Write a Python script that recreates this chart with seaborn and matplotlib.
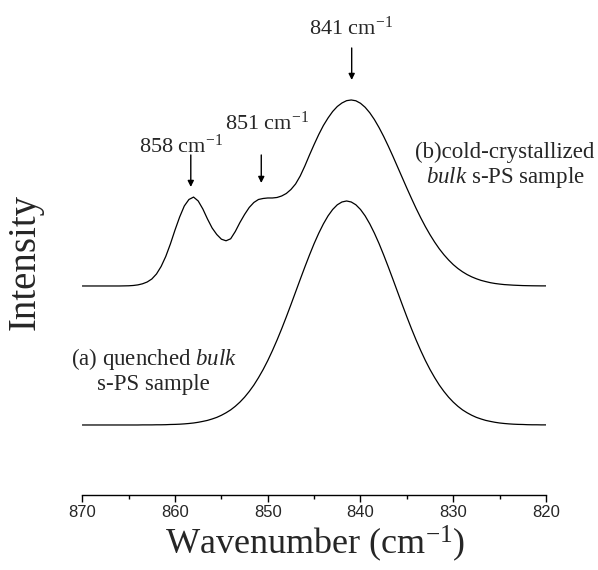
import numpy as np
import pandas as pd
import matplotlib
matplotlib.use("Agg")
import matplotlib.pyplot as plt
import seaborn as sns
from matplotlib.ticker import MultipleLocator

### wavenumber grid (cm-1), from 870 down to 820 in 0.5 steps
wavenumber = np.arange(870.0, 819.75, -0.5)

### (a) quenched bulk s-PS sample, intensity (a.u.)
intensity_a = [
    0.0, 0.0, 0.0, 0.0, 0.0, 0.0, 0.0, 0.0, 0.0, 0.0,
    0.0, 0.0, 0.0, 0.1, 0.1, 0.1, 0.2, 0.2, 0.3, 0.5,
    0.6, 0.8, 1.1, 1.5, 2.0, 2.7, 3.6, 4.6, 6.0, 7.6,
    9.7, 12.2, 15.1, 18.7, 22.9, 27.8, 33.5, 39.9, 47.3, 55.4,
    64.4, 74.3, 84.9, 96.2, 108.1, 120.4, 133.0, 145.6, 158.0, 170.0,
    181.4, 191.8, 201.1, 209.1, 215.5, 220.2, 223.0, 224.0, 223.0, 220.2,
    215.5, 209.1, 201.1, 191.8, 181.4, 170.0, 158.0, 145.6, 133.0, 120.4,
    108.1, 96.2, 84.9, 74.3, 64.4, 55.4, 47.3, 39.9, 33.5, 27.8,
    22.9, 18.7, 15.1, 12.2, 9.7, 7.6, 6.0, 4.6, 3.6, 2.7,
    2.0, 1.5, 1.1, 0.8, 0.6, 0.5, 0.3, 0.2, 0.2, 0.1,
    0.1,
]

### (b) cold-crystallized bulk s-PS sample (a.u., before offset)
intensity_b = [
    0.0, 0.0, 0.0, 0.0, 0.0, 0.0, 0.0, 0.0, 0.0, 0.1,
    0.2, 0.5, 1.1, 2.2, 4.0, 7.0, 12.0, 19.5, 29.5, 42.0,
    56.0, 69.0, 80.0, 86.5, 88.9, 85.0, 77.0, 67.0, 58.0, 51.5,
    46.8, 45.2, 47.2, 54.5, 63.5, 71.5, 78.5, 83.5, 86.5, 87.5,
    88.0, 88.0, 88.5, 90.0, 92.5, 96.5, 102.0, 110.0, 120.0, 131.0,
    141.5, 151.5, 160.5, 168.0, 174.5, 179.5, 183.0, 185.3, 186.0, 185.2,
    182.7, 178.7, 173.2, 166.4, 158.4, 149.5, 139.8, 129.6, 119.0, 108.4,
    97.8, 87.5, 77.5, 68.1, 59.3, 51.2, 43.8, 37.1, 31.2, 26.0,
    21.4, 17.5, 14.2, 11.4, 9.1, 7.2, 5.6, 4.4, 3.3, 2.5,
    1.9, 1.4, 1.1, 0.8, 0.6, 0.4, 0.3, 0.2, 0.15, 0.1,
    0.1,
]
offset_b = 139.0

### peak labels
peak_pos = [840.95, 850.7, 858.3]
peak_text = ["841 cm$^{-1}$", "851 cm$^{-1}$", "858 cm$^{-1}$"]

df = pd.DataFrame({"wavenumber": wavenumber,
                   "a": intensity_a,
                   "b": np.array(intensity_b) + offset_b})

sns.set_style("white")
plt.rcParams["font.family"] = ["Liberation Serif", "DejaVu Serif"]
plt.rcParams["mathtext.fontset"] = "custom"
plt.rcParams["mathtext.rm"] = "Liberation Serif"
plt.rcParams["mathtext.it"] = "Liberation Serif:italic"

fig = plt.figure(figsize=(5.98, 5.70), dpi=100)
ax = fig.add_axes([0.1376, 0.1316, 0.7754, 0.8509])

sns.lineplot(data=df, x="wavenumber", y="a", color="black", lw=0.9, ax=ax,
             solid_joinstyle="round")
sns.lineplot(data=df, x="wavenumber", y="b", color="black", lw=0.9, ax=ax,
             solid_joinstyle="round")

ax.set_xlim(870, 820)
ax.set_ylim(-70, 415)
ax.set_xlabel("")
ax.set_ylabel("")
ax.set_yticks([])
for s in ["left", "top", "right"]:
    ax.spines[s].set_visible(False)
ax.spines["bottom"].set_linewidth(1.0)
ax.spines["bottom"].set_color("black")

ax.xaxis.set_major_locator(MultipleLocator(10))
ax.xaxis.set_minor_locator(MultipleLocator(5))
ax.tick_params(axis="x", which="major", direction="out", length=5, width=1,
               color="black", pad=2, bottom=True)
ax.tick_params(axis="x", which="minor", direction="out", length=3, width=1,
               color="black", bottom=True)
for lab in ax.get_xticklabels():
    lab.set_fontfamily("Liberation Sans")
    lab.set_fontsize(12)

### arrows + peak labels
arrow_y = [(377, 345), (270, 242), (270, 238)]
label_xy = [(845.5, 390), (854.6, 295), (863.9, 271.7)]
for pos, (y0, y1), txt, (tx, ty) in zip(peak_pos, arrow_y, peak_text, label_xy):
    ax.annotate("", xy=(pos, y1), xytext=(pos, y0),
                arrowprops=dict(arrowstyle="-|>", color="black", lw=1,
                                mutation_scale=9, shrinkA=0, shrinkB=0))
    ax.text(tx, ty, txt, fontsize=16, ha="left", va="baseline")

### sample labels
ax.text(824.4, 267, "(b)cold-crystallized", fontsize=16.5, ha="center", va="baseline")
ax.text(824.4, 242, r"$\mathit{bulk}$ s-PS sample", fontsize=16.5, ha="center", va="baseline")
ax.text(862.3, 60, r"(a) quenched $\mathit{bulk}$", fontsize=16.5, ha="center", va="baseline")
ax.text(862.3, 35, "s-PS sample", fontsize=16.5, ha="center", va="baseline")

fig.text(0.5268, 0.028, "Wavenumber (cm$^{-1}$)", fontsize=26, ha="center", va="baseline")
fig.text(0.0418, 0.5404, "Intensity", fontsize=28, rotation=90, ha="center", va="center")

fig.savefig("out.png", dpi=100, facecolor="white")
